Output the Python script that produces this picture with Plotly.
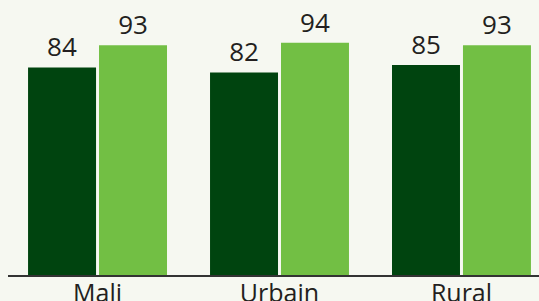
import plotly.graph_objects as go

categories = ["Mali", "Urbain", "Rural"]
series_a = [84, 82, 85]
series_b = [93, 94, 93]
series_names = ["Série 1", "Série 2"]

dark = "#00440f"
light = "#72bf44"
txt = "#231f20"
font_family = "Open Sans, Noto Sans, sans-serif"

fig = go.Figure()
for name, vals, col in [(series_names[0], series_a, dark), (series_names[1], series_b, light)]:
    fig.add_trace(go.Bar(
        x=categories, y=vals, name=name, marker=dict(color=col, line=dict(width=0)),
        text=[str(v) for v in vals], textposition="outside", cliponaxis=False,
        textfont=dict(size=26, color=txt, family=font_family),
    ))

fig.update_layout(
    width=539, height=301,
    margin=dict(l=8, r=0, t=0, b=26, pad=0, autoexpand=False),
    paper_bgcolor="#f6f8f1", plot_bgcolor="#f6f8f1",
    barmode="group", bargap=0.22, bargroupgap=0.042,
    showlegend=False,
    font=dict(family=font_family, color=txt),
    xaxis=dict(range=[-0.492, 2.426], showline=True, linecolor="#333333", linewidth=1.5,
               ticks="", tickfont=dict(size=25, color=txt, family=font_family),
               ticklabelstandoff=-5,
               showgrid=False, zeroline=False, fixedrange=True, automargin=False),
    yaxis=dict(range=[0, 111.3], visible=False, showgrid=False, zeroline=False, automargin=False),
)
fig.write_html(
    "out.html",
    config={"displayModeBar": False},
    post_script="document.body.style.margin='0';document.body.style.overflow='hidden';document.body.style.background='#f6f8f1';",
)
